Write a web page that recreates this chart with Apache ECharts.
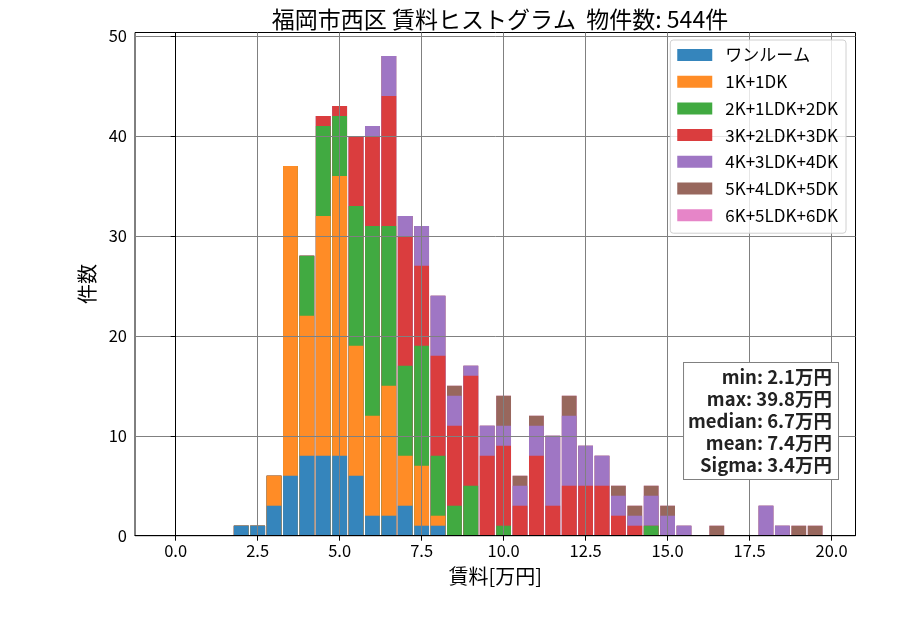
<!DOCTYPE html>
<html>
<head>
<meta charset="utf-8">
<script src="https://cdn.jsdelivr.net/npm/echarts@6/dist/echarts.min.js"></script>
<style>
  html, body { margin: 0; padding: 0; background: #fff; }
  #chart { width: 900px; height: 630px; }
</style>
</head>
<body>
<div id="chart"></div>
<script>
// 賃料ビン（中心値, 0.5万円刻み）
var bins = [2.0, 2.5, 3.0, 3.5, 4.0, 4.5, 5.0, 5.5, 6.0, 6.5, 7.0, 7.5, 8.0, 8.5, 9.0, 9.5,
            10.0, 10.5, 11.0, 11.5, 12.0, 12.5, 13.0, 13.5, 14.0, 14.5, 15.0, 15.5, 16.0, 16.5,
            17.0, 17.5, 18.0, 18.5, 19.0, 19.5];

// 間取り別の件数
var oneRoom = [1, 1, 3, 6, 8, 8, 8, 6, 2, 2, 3, 1, 1, 0, 0, 0, 0, 0, 0, 0, 0, 0, 0, 0, 0, 0, 0, 0, 0, 0, 0, 0, 0, 0, 0, 0];
var k1dk    = [0, 0, 3, 31, 14, 24, 28, 13, 10, 13, 5, 6, 1, 0, 0, 0, 0, 0, 0, 0, 0, 0, 0, 0, 0, 0, 0, 0, 0, 0, 0, 0, 0, 0, 0, 0];
var k2ldk   = [0, 0, 0, 0, 6, 9, 6, 14, 19, 16, 9, 12, 6, 3, 5, 0, 1, 0, 0, 0, 0, 0, 0, 0, 0, 1, 0, 0, 0, 0, 0, 0, 0, 0, 0, 0];
var k3ldk   = [0, 0, 0, 0, 0, 1, 1, 7, 9, 13, 13, 8, 10, 8, 11, 8, 8, 3, 8, 3, 5, 5, 5, 2, 1, 0, 0, 0, 0, 0, 0, 0, 0, 0, 0, 0];
var k4ldk   = [0, 0, 0, 0, 0, 0, 0, 0, 1, 4, 2, 4, 6, 3, 1, 3, 2, 2, 3, 7, 7, 4, 3, 2, 1, 3, 2, 1, 0, 0, 0, 0, 3, 1, 0, 0];
var k5ldk   = [0, 0, 0, 0, 0, 0, 0, 0, 0, 0, 0, 0, 0, 1, 0, 0, 3, 1, 1, 0, 2, 0, 0, 1, 1, 1, 1, 0, 0, 1, 0, 0, 0, 0, 1, 1];
var k6ldk   = [0, 0, 0, 0, 0, 0, 0, 0, 0, 0, 0, 0, 0, 0, 0, 0, 0, 0, 0, 0, 0, 0, 0, 0, 0, 0, 0, 0, 0, 0, 0, 0, 0, 0, 0, 0];

var names  = ['ワンルーム', '1K+1DK', '2K+1LDK+2DK', '3K+2LDK+3DK', '4K+3LDK+4DK', '5K+4LDK+5DK', '6K+5LDK+6DK'];
var counts = [oneRoom, k1dk, k2ldk, k3ldk, k4ldk, k5ldk, k6ldk];
var colors = ['#3585bc', '#ff8c26', '#41aa41', '#da3d3e', '#9f76c4', '#98675d', '#e685c8'];

var xTicks = [0, 2.5, 5, 7.5, 10, 12.5, 15, 17.5, 20];
var yTicks = [0, 10, 20, 30, 40, 50];

var statsText = ['min: 2.1万円', 'max: 39.8万円', 'median: 6.7万円', 'mean: 7.4万円', 'Sigma: 3.4万円'];

var FONT = '"Noto Sans CJK JP", "Noto Sans", sans-serif';

// 積み上げ: 累積値を作って、上の段から順に重ねて描く
var cum = [];
counts.forEach(function (arr, i) {
    cum.push(arr.map(function (v, j) {
        return v + (i > 0 ? cum[i - 1][j] : 0);
    }));
});

var series = [];
for (var i = counts.length - 1; i >= 0; i--) {
    series.push({
        name: names[i],
        type: 'bar',
        barWidth: 14.8,
        barGap: '-100%',
        itemStyle: { color: colors[i] },
        data: bins.map(function (b, j) { return [b, cum[i][j]]; }),
        z: 2
    });
}

var chart = echarts.init(document.getElementById('chart'));
chart.setOption({
    animation: false,
    color: colors,
    title: {
        text: '福岡市西区 賃料ヒストグラム  物件数: 544件',
        left: 495,
        textAlign: 'center',
        top: 3,
        textStyle: { fontFamily: FONT, fontSize: 23, fontWeight: 'normal', color: '#000' }
    },
    grid: {
        left: 135, right: 44.5, top: 32.5, bottom: 94.3,
        show: true, borderColor: '#000', borderWidth: 1, backgroundColor: 'transparent'
    },
    legend: {
        data: names,
        orient: 'vertical',
        right: 54,
        top: 40,
        z: 10,
        itemWidth: 35,
        itemHeight: 12,
        itemGap: 6.7,
        padding: [5, 8, 8, 7],
        backgroundColor: 'rgba(255,255,255,0.8)',
        borderColor: '#d0d0d0',
        borderWidth: 1,
        borderRadius: 3,
        icon: 'rect',
        textStyle: { fontFamily: FONT, fontSize: 17, color: '#000', lineHeight: 20, padding: [0, 0, 0, 8] }
    },
    xAxis: {
        type: 'value',
        min: -1.24,
        max: 20.73,
        z: 3,
        name: '賃料[万円]',
        nameLocation: 'middle',
        nameGap: 31,
        nameTextStyle: { fontFamily: FONT, fontSize: 20, color: '#000' },
        axisLine: { show: true, lineStyle: { color: '#000', width: 1 } },
        axisTick: { show: true, length: 5, lineStyle: { color: '#000' }, customValues: xTicks },
        axisLabel: {
            fontFamily: FONT, fontSize: 16.5, color: '#000', margin: 7,
            customValues: xTicks,
            formatter: function (v) { return v.toFixed(1); }
        },
        splitLine: { show: true, lineStyle: { color: '#808080', width: 1 } }
    },
    yAxis: {
        type: 'value',
        min: 0,
        max: 50.35,
        z: 3,
        name: '件数',
        nameLocation: 'middle',
        nameGap: 37,
        nameTextStyle: { fontFamily: FONT, fontSize: 20, color: '#000' },
        axisLine: { show: true, lineStyle: { color: '#000', width: 1 } },
        axisTick: { show: true, length: 5, lineStyle: { color: '#000' }, customValues: yTicks },
        axisLabel: { fontFamily: FONT, fontSize: 16.5, color: '#000', margin: 8, customValues: yTicks },
        splitLine: { show: true, lineStyle: { color: '#808080', width: 1 } }
    },
    graphic: [{
        type: 'text',
        x: 838,
        y: 363,
        z: 100,
        style: {
            text: statsText.join('\n'),
            align: 'right',
            verticalAlign: 'top',
            font: 'bold 18.5px ' + FONT,
            lineHeight: 22,
            fill: '#222',
            backgroundColor: '#fff',
            borderColor: '#808080',
            borderWidth: 1,
            padding: [3, 6, 3, 4]
        }
    }],
    series: series
});
</script>
</body>
</html>
